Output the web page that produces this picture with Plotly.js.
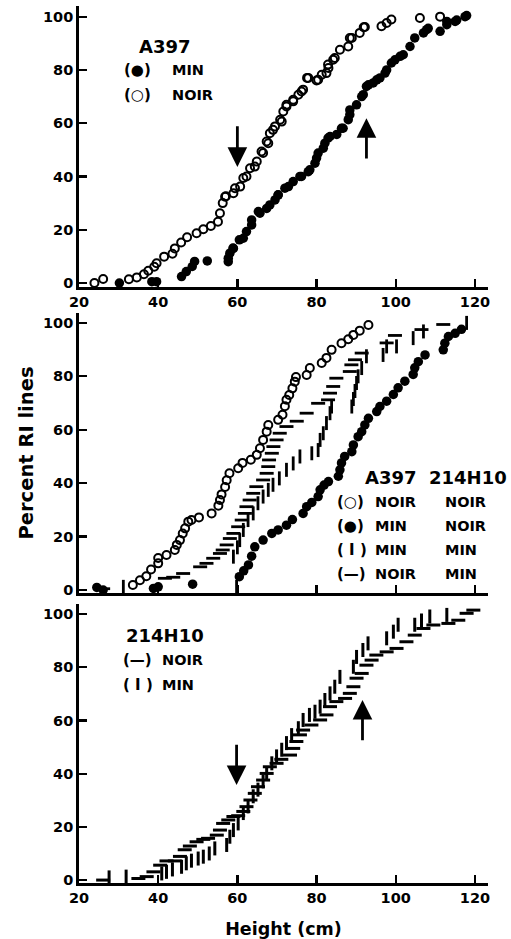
<!DOCTYPE html>
<html>
<head>
<meta charset="utf-8">
<script src="https://cdn.plot.ly/plotly-3.0.1.min.js"></script>
<style>html,body{margin:0;padding:0;background:#fff;}#chart{width:511px;height:939px;}</style>
</head>
<body>
<div id="chart"></div>
<script>
// ---------- Panel 1: A397 (MIN filled, NOIR open) ----------
const p1NoirX = [23.9,26.1,32.6,34.6,36.4,37.5,39.0,39.6,41.5,43.6,44.2,45.8,47.3,49.7,51.4,53.3,55.1,55.6,56.3,56.9,57.1,59.0,59.4,60.7,61.5,62.3,63.2,64.4,64.9,66.1,66.5,67.4,67.8,68.2,69.0,69.5,70.8,71.2,71.6,72.4,72.4,74.1,74.1,75.4,76.2,76.6,77.6,77.9,80.0,80.4,81.3,82.5,82.9,83.0,84.2,84.6,85.9,88.0,88.4,88.9,90.9,91.9,92.2,96.4,97.7,98.9,106.1,111.2];
const p1NoirY = [0,1.5,1.4,2.1,3.3,4.6,6.1,7.4,9.9,11,13,15.2,17.2,18.7,20.2,21.4,23,26.2,30,32.4,32.6,33.7,35.6,36.2,39.4,40,43.1,43.7,45.6,49.4,48.8,53.1,52.5,56.2,57.5,58.8,61.3,60.6,64.4,66.3,66.9,68.8,68.2,70.7,71.9,72.6,77,77,76,76.3,78.2,78.8,82,80.7,83.8,84.5,87.6,88.8,92,92,93.9,96,96.1,96.4,97.6,98.9,99.5,100];
const p1MinX = [30.2,38.4,39.6,45.9,47.1,48.6,49.2,52.4,57.7,57.7,58.1,58.9,59.0,60.5,61.5,62.3,63.6,63.6,65.3,65.7,67.4,68.2,69.5,70.3,70.3,72.0,72.9,74.1,75.8,76.2,77.9,78.3,79.6,80.0,80.4,81.7,82.1,82.9,83.4,85.1,86.3,86.7,88.0,88.4,88.4,90.1,91.4,91.8,92.6,93.1,94.3,95.2,96.0,97.3,97.7,98.9,99.8,101.1,101.9,103.6,104.8,107.0,107.8,108.2,111.2,112.9,112.9,115.0,115.4,117.5,117.9];
const p1MinY = [0,0.5,0.5,2.4,4.3,6.2,8.1,8.3,8,9.3,11.2,13.1,13,16.2,16.8,19.3,23.7,21.8,26.8,26.2,28,29.3,31.2,33,33.1,35.6,36.2,38.1,40,40,41.8,42.5,45,46.9,48.8,50.6,52.5,54.4,55,55.8,58.1,58.1,61.3,63.2,65,66.9,70,70.7,73.8,74.4,75.1,76.3,77,78.8,80,82.6,83.8,85.1,85.7,88.8,92,93.9,95.1,95.6,94.5,97,98.2,98.2,98.7,100,100.4];

// ---------- Panel 2: A397 x 214H10 ----------
const p2NoirNoirX = [33.6,35.4,37.0,38.2,40.0,40.0,42.1,44.2,44.7,45.5,46.2,46.8,47.6,48.4,50.3,53.5,55.2,55.6,56.0,56.9,57.3,58.0,60.2,61.3,63.4,64.9,65.7,66.5,67.4,67.8,70.3,71.4,72.0,72.4,73.1,73.9,74.5,74.8,77.5,78.3,81.3,82.5,83.8,86.3,88.0,89.3,90.9,93.1];
const p2NoirNoirY = [1.9,3.7,5.2,7.7,10,12,13.1,15,16.9,18.7,21.2,23.1,25.6,26.2,27.2,28.7,31.6,33.7,35.8,38.6,41.1,43.7,45.6,47.6,48.8,50.6,53.1,56.2,59.3,61.8,63.7,65.6,68.8,71.2,73,75.5,78,79.7,80.5,83.1,85,86.9,89.9,92.4,93.9,95.5,97.1,99.2];
const p2MinNoirX = [24.5,26.1,38.8,40.0,48.7,60.5,61.6,62.8,63.6,64.4,66.5,68.7,70.3,72.4,73.9,76.6,77.5,78.8,80.4,80.9,81.9,83.0,85.5,85.9,86.3,87.1,88.9,89.3,90.5,91.4,92.2,93.1,95.2,96.0,97.7,99.4,100.6,102.3,104.4,104.8,105.7,107.4,112.0,112.4,113.3,115.0,116.6];
const p2MinNoirY = [1,0,0.6,1.2,2.2,5,7.2,9.4,12.7,16.2,18.7,21.2,22.5,24.3,26.4,28.7,31.2,32.8,35,37.5,39.3,40.6,42.6,45,47.6,50,51.8,54.3,57.4,59.3,61.8,64.3,66.8,68.7,70.7,73.2,75.7,78.2,80.7,83.2,85.5,88,89.9,92.4,94.9,96.1,97.6];
const p2MinMinX = [31.2,59.8,59.0,60.0,60.6,61.5,62.7,64.0,65.2,66.5,67.8,69.0,70.6,72.4,74.1,75.8,78.8,80.4,80.9,81.7,82.5,83.4,83.8,88.9,89.3,89.7,90.1,90.5,91.4,92.6,96.8,97.7,100.2,104.4,107.0,117.9];
const p2MinMinY = [1.2,1.2,12.5,16,18.7,22.5,26.2,28.7,32.5,35,37.5,39.4,41.8,45,47.4,50,51.2,52.4,56.2,58.7,62.5,66.2,68.7,68.7,71.5,74.5,77.5,80,83.1,87.5,88,91.2,91.2,94.3,96.8,100];
const p2NoirMinX = [26.1,41.7,43.8,46.3,50.6,52.2,53.9,55.6,56.3,57.3,58.1,59.0,60.2,61.1,61.9,62.3,63.1,64.0,64.8,66.5,67.4,67.8,68.0,68.7,69.1,69.9,70.7,72.4,75.0,77.5,80.4,82.9,83.4,84.2,85.0,88.4,88.8,89.7,91.4,97.7,99.8,106.5,112.0];
const p2NoirMinY = [0.5,4.4,4.8,6.2,8.7,10,11.9,13.7,15,16.9,19.3,21.2,23.7,26.2,28.7,31.2,33.7,36.2,38.7,41.2,43.7,46.2,48.7,51.2,53.7,56.2,58.7,61.2,63.2,66.2,69.9,71.2,73.7,76.2,79.3,81.8,84.3,86.2,88.7,92.5,95.3,97.5,99.4];

// ---------- Panel 3: 214H10 (NOIR dash, MIN bar) ----------
const p3NoirX = [26.1,35.0,37.1,38.8,40.5,42.1,44.2,45.5,46.7,48.0,49.7,51.4,52.6,54.8,55.6,56.4,57.7,59.0,60.2,61.5,62.3,63.3,64.4,65.2,66.5,67.4,68.2,69.9,71.1,73.3,74.1,74.9,75.8,76.6,78.7,80.9,82.5,83.4,85.0,87.2,88.4,89.3,90.1,91.4,92.6,93.9,95.1,97.7,100.2,102.7,104.8,107.0,109.5,113.3,115.8,117.9,119.6];
const p3NoirY = [0,0.6,1.3,3.1,5.6,7.2,7.2,8.9,11.4,12.8,14.4,15.3,15.7,16.9,18.8,21.3,22.6,23.9,24.2,25.8,27.6,30.1,32.6,35.1,37.6,40.1,42.6,43.9,45.4,47,49.5,52.1,54.6,56.4,58.3,60.2,62.1,65.2,67.1,68.3,70.2,72.7,75.9,77.7,80.8,82.7,84.6,85.8,87.1,89.6,92.1,94.6,95.9,96.5,97.7,100.3,101.5];
const p3MinX = [27.6,31.9,40.9,42.1,43.6,45.9,47.1,48.4,50.1,51.4,52.9,54.3,57.3,58.1,59.0,60.2,61.5,62.7,64.0,65.2,66.5,67.4,68.7,69.9,71.2,72.4,73.7,75.4,76.6,78.2,79.6,80.9,82.1,83.4,84.6,85.9,89.3,90.1,91.7,93.0,97.7,99.4,100.6,104.8,106.5,108.6,112.9];
const p3MinY = [1,1.3,2.5,3.1,4,5,6.3,7.3,8.1,8.8,10,11.9,13.2,16.3,18.8,21.3,25.2,27.7,31.5,34,37.1,40.2,43.9,46.5,49,51.5,54.5,57.1,60.2,62.1,63.3,65.2,67.7,70.2,72.7,76.4,80.2,83.9,86.5,89,90.9,93.4,96,96,97.6,99.1,99.7];

const xTicks = [20, 40, 60, 80, 100, 120];
const yTicks = [0, 20, 40, 60, 80, 100];

const FONT = 'DejaVu Sans, Liberation Sans, Arial, sans-serif';

function mk(x, y, xa, ya, symbol, size, lw, fill) {
  return {
    x: x, y: y, xaxis: xa, yaxis: ya, type: 'scatter', mode: 'markers',
    showlegend: false, hoverinfo: 'skip', cliponaxis: false,
    marker: { symbol: symbol, size: size, color: fill, line: { color: '#000', width: lw } }
  };
}

const data = [
  mk(p1NoirX, p1NoirY, 'x', 'y', 'circle-open', 8, 2, '#000'),
  mk(p1MinX, p1MinY, 'x', 'y', 'circle', 9.5, 0, '#000'),
  mk(p2NoirNoirX, p2NoirNoirY, 'x2', 'y2', 'circle-open', 8, 2, '#000'),
  mk(p2MinNoirX, p2MinNoirY, 'x2', 'y2', 'circle', 9.5, 0, '#000'),
  mk(p2MinMinX, p2MinMinY, 'x2', 'y2', 'line-ns', 10, 2.8, '#000'),
  mk(p2NoirMinX, p2NoirMinY, 'x2', 'y2', 'line-ew', 10, 2.8, '#000'),
  mk(p3NoirX, p3NoirY, 'x3', 'y3', 'line-ew', 10, 3, '#000'),
  mk(p3MinX, p3MinY, 'x3', 'y3', 'line-ns', 10, 3, '#000')
];

const W = 511, H = 939, L = 79, R = 23;
function dom(top, bot) { return [1 - bot / H, 1 - top / H]; }
const tickFont = { family: FONT, size: 14.5, color: '#000', weight: 'bold' };

function xax(anchor, extra) {
  return Object.assign({
    anchor: anchor, range: [20, 123.3], tickvals: xTicks, ticktext: xTicks.map(String),
    ticks: 'inside', ticklen: 8, tickwidth: 2.3, tickcolor: '#000',
    showline: true, linewidth: 2.8, linecolor: '#000',
    showgrid: false, zeroline: false, tickfont: tickFont, ticklabelstandoff: 0
  }, extra || {});
}
function yax(anchor, domain, range, extra) {
  return Object.assign({
    anchor: anchor, domain: domain, range: range, tickvals: yTicks, ticktext: yTicks.map(String),
    ticks: 'inside', ticklen: 8, tickwidth: 2.3, tickcolor: '#000',
    showline: true, linewidth: 2.8, linecolor: '#000',
    showgrid: false, zeroline: false, tickfont: tickFont, ticklabelstandoff: 0
  }, extra || {});
}

function px(x) { return (x - L) / (W - L - R); }
function py(y) { return 1 - y / H; }
function lab(text, x, y, size) {
  return { xref: 'paper', yref: 'paper', x: px(x), y: py(y), xanchor: 'left', yanchor: 'middle',
    text: text, showarrow: false, font: { family: FONT, size: size, color: '#000', weight: 'bold' } };
}
function arrow(xr, yr, x, yTail, yHead) {
  return { xref: xr, yref: yr, axref: xr, ayref: yr, x: x, y: yHead, ax: x, ay: yTail,
    text: '', showarrow: true, arrowhead: 2, arrowsize: 1.4, arrowwidth: 2.8, arrowcolor: '#000', standoff: 0, startstandoff: 0 };
}

const annotations = [
  // panel 1 legend
  lab('A397', 137, 46, 18),
  lab('(●)', 122, 70, 15), lab('MIN', 170, 70, 14.5),
  lab('(○)', 122, 95, 15), lab('NOIR', 170, 95, 14.5),
  // panel 2 legend
  lab('A397', 363, 477, 18), lab('214H10', 427, 477, 18),
  lab('(○)', 335, 502, 15), lab('NOIR', 373, 502, 14.5), lab('NOIR', 443, 502, 14.5),
  lab('(●)', 335, 526, 15), lab('MIN', 373, 526, 14.5), lab('NOIR', 443, 526, 14.5),
  lab('( I )', 335, 550, 15), lab('MIN', 373, 550, 14.5), lab('MIN', 443, 550, 14.5),
  lab('(—)', 335, 574, 15), lab('NOIR', 373, 574, 14.5), lab('MIN', 443, 574, 14.5),
  // panel 3 legend
  lab('214H10', 124, 635, 18),
  lab('(—)', 121, 660, 15), lab('NOIR', 160, 660, 14.5),
  lab('( I )', 121, 685, 15), lab('MIN', 160, 685, 14.5),
  // arrows
  arrow('x', 'y', 60, 59.4, 43.6),
  arrow('x', 'y', 92.6, 46.2, 61.9),
  arrow('x3', 'y3', 59.8, 51.4, 35.7),
  arrow('x3', 'y3', 91.6, 52, 67.7)
];

const layout = {
  width: W, height: H,
  margin: { l: L, r: R, t: 0, b: 0 },
  paper_bgcolor: '#fff', plot_bgcolor: '#fff',
  showlegend: false,
  xaxis: xax('y'),
  xaxis2: xax('y2', { showticklabels: false }),
  xaxis3: xax('y3', { title: { text: 'Height (cm)', standoff: 20, font: { family: FONT, size: 17.5, color: '#000', weight: 'bold' } } }),
  yaxis: yax('x', dom(6, 287), [-1.5, 104]),
  yaxis2: yax('x2', dom(313, 593), [-1.1, 103.7], { title: { text: 'Percent RI lines', standoff: 5, font: { family: FONT, size: 19.5, color: '#000', weight: 'bold' } } }),
  yaxis3: yax('x3', dom(604, 883), [-1.1, 103.8]),
  annotations: annotations
};

Plotly.newPlot('chart', data, layout, { staticPlot: true, displayModeBar: false });
</script>
</body>
</html>
